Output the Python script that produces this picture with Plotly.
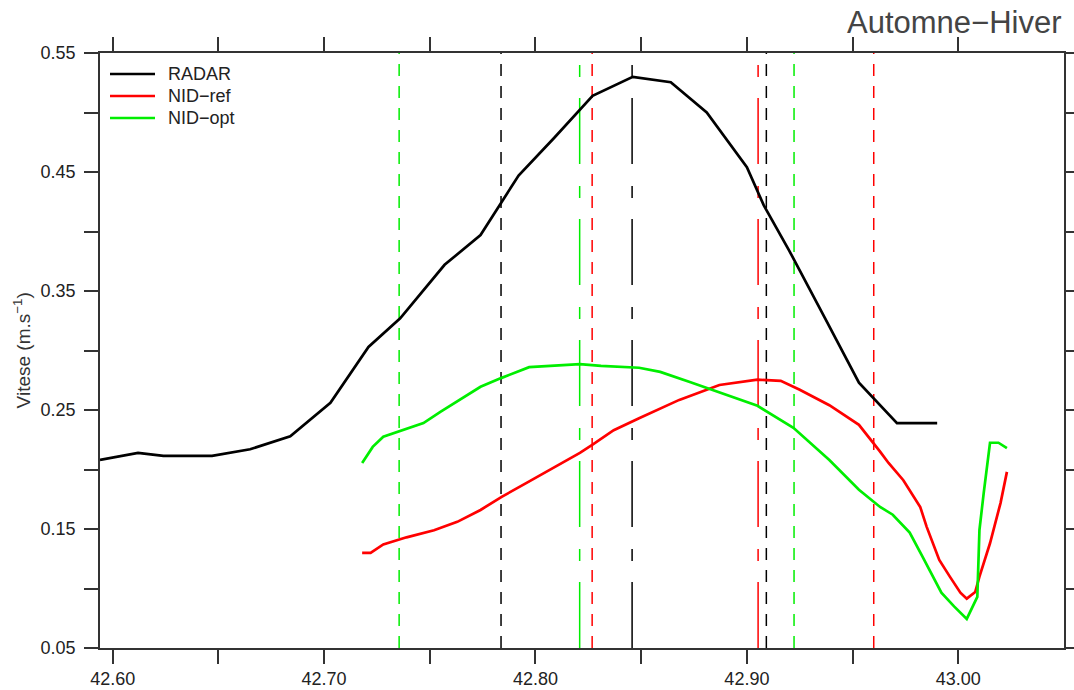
import plotly.graph_objects as go

# ---- data ----
radar_lat = [42.594, 42.612, 42.624, 42.647, 42.665, 42.684, 42.703, 42.721, 42.736,
             42.757, 42.774, 42.792, 42.809, 42.827, 42.846, 42.864, 42.881, 42.900,
             42.908, 42.920, 42.937, 42.953, 42.971, 42.990]
radar_v = [0.208, 0.214, 0.2115, 0.2115, 0.217, 0.228, 0.256, 0.303, 0.327,
           0.372, 0.397, 0.447, 0.479, 0.514, 0.530, 0.5255, 0.500, 0.454,
           0.422, 0.384, 0.327, 0.273, 0.239, 0.239]

ref_lat = [42.718, 42.722, 42.728, 42.739, 42.752, 42.763, 42.774, 42.784, 42.796,
           42.807, 42.821, 42.827, 42.837, 42.849, 42.868, 42.887, 42.905, 42.916,
           42.925, 42.939, 42.953, 42.963, 42.967, 42.974, 42.982, 42.985, 42.991,
           42.996, 43.001, 43.004, 43.008, 43.010, 43.015, 43.020, 43.023]
ref_v = [0.130, 0.130, 0.137, 0.143, 0.149, 0.156, 0.166, 0.177, 0.189,
         0.200, 0.214, 0.221, 0.233, 0.243, 0.2585, 0.271, 0.2755, 0.2745,
         0.267, 0.254, 0.2375, 0.215, 0.2055, 0.191, 0.1685, 0.152, 0.124,
         0.110, 0.0965, 0.0915, 0.097, 0.110, 0.138, 0.172, 0.198]

opt_lat = [42.718, 42.723, 42.728, 42.735, 42.747, 42.755, 42.764, 42.774, 42.784,
           42.797, 42.821, 42.831, 42.849, 42.859, 42.873, 42.887, 42.905, 42.922,
           42.939, 42.953, 42.963, 42.969, 42.977, 42.983, 42.988, 42.992, 42.998,
           43.004, 43.009, 43.010, 43.012, 43.015, 43.019, 43.023]
opt_v = [0.2055, 0.219, 0.2275, 0.2315, 0.239, 0.2485, 0.2585, 0.2695, 0.277,
         0.286, 0.2885, 0.287, 0.2855, 0.282, 0.2735, 0.265, 0.2535, 0.235,
         0.208, 0.183, 0.1685, 0.162, 0.147, 0.127, 0.110, 0.0965, 0.085,
         0.0745, 0.093, 0.149, 0.180, 0.2225, 0.2225, 0.218]

# vertical markers (latitude, colour, style)
vline_lat = [42.7355, 42.7837, 42.8209, 42.8268, 42.8457, 42.9053, 42.9092, 42.9223, 42.9600]
vline_col = ["#00ee00", "#000000", "#00ee00", "#ff0000", "#000000", "#ff0000", "#000000", "#00ee00", "#ff0000"]
vline_sty = ["dash", "dash", "dashdot", "dash", "dashdot", "dashdot", "dash", "dash", "dash"]

series_names = ["RADAR", "NID\u2212ref", "NID\u2212opt"]
series_colors = ["#000000", "#ff0000", "#00ee00"]

x_ticks = [42.60, 42.70, 42.80, 42.90, 43.00]
x_labels = ["42.60", "42.70", "42.80", "42.90", "43.00"]
x_minor = [42.65, 42.75, 42.85, 42.95]
y_ticks = [0.05, 0.15, 0.25, 0.35, 0.45, 0.55]
y_labels = ["0.05", "0.15", "0.25", "0.35", "0.45", "0.55"]
y_minor = [0.10, 0.20, 0.30, 0.40, 0.50]

Y_MIN, Y_MAX = 0.05, 0.55
X_MIN, X_MAX = 42.594, 43.050

DASH = {"dash": "12px,10px", "dashdot": "66px,21px,12px,22px"}

fig = go.Figure()

for lat, col, sty in zip(vline_lat, vline_col, vline_sty):
    fig.add_trace(go.Scatter(x=[lat, lat], y=[Y_MIN, Y_MAX], mode="lines",
                             line=dict(color=col, width=1.5, dash=DASH[sty]),
                             showlegend=False, hoverinfo="skip"))

for xs, ys, nm, col in zip([radar_lat, ref_lat, opt_lat], [radar_v, ref_v, opt_v],
                           series_names, series_colors):
    fig.add_trace(go.Scatter(x=xs, y=ys, mode="lines", name=nm, showlegend=False,
                             line=dict(color=col, width=2.7)))

axis_common = dict(showline=True, linecolor="#333333", linewidth=1.5, mirror="allticks",
                   ticks="outside", ticklen=14, tickwidth=1.5, tickcolor="#333333",
                   showgrid=False, zeroline=False, automargin=False,
                   tickfont=dict(family="Liberation Sans", size=18, color="#222222"))
minor_common = dict(ticks="outside", ticklen=14, tickwidth=1.5, tickcolor="#333333",
                    showgrid=False)

# legend drawn inside the plot (swatch + label)
shapes = []
annotations = []
leg_y0 = 74
for i, (nm, col) in enumerate(zip(series_names, series_colors)):
    ypx = leg_y0 + i * 22
    yp = 1 - (ypx - 53) / 595
    x0 = (110 - 100) / 964
    x1 = (155 - 100) / 964
    shapes.append(dict(type="line", xref="paper", yref="paper", x0=x0, x1=x1, y0=yp, y1=yp,
                       line=dict(color=col, width=2.7)))
    annotations.append(dict(text=nm, xref="paper", yref="paper", x=(166 - 100) / 964, y=yp,
                            xanchor="left", yanchor="middle", showarrow=False,
                            font=dict(family="Liberation Sans", size=18, color="#222222")))

annotations += [
    dict(text="Automne\u2212Hiver", xref="paper", yref="paper", x=1.0, y=1.052,
         xanchor="right", yanchor="middle", showarrow=False,
         font=dict(family="Liberation Sans", size=31, color="#444444")),
    dict(text="Vitese (m.s<sup>\u22121</sup>)", xref="paper", yref="paper",
         x=-0.081, y=0.5, xanchor="center", yanchor="middle", textangle=-90,
         showarrow=False, font=dict(family="Liberation Sans", size=19, color="#333333")),
]

fig.update_layout(
    width=1074, height=690,
    margin=dict(l=100, r=10, t=53, b=42, autoexpand=False),
    plot_bgcolor="white", paper_bgcolor="white",
    font=dict(family="Liberation Sans", color="#222222"),
    xaxis=dict(range=[X_MIN, X_MAX], tickmode="array", tickvals=x_ticks, ticktext=x_labels,
               minor=dict(tickmode="array", tickvals=x_minor, **minor_common),
               **axis_common),
    yaxis=dict(range=[Y_MIN, Y_MAX], tickmode="array", tickvals=y_ticks, ticktext=y_labels,
               minor=dict(tickmode="array", tickvals=y_minor, **minor_common),
               ticklabelstandoff=5, **axis_common),
    showlegend=False,
    shapes=shapes,
    annotations=annotations,
)

fig.write_html("out.html", config={"displayModeBar": False},
               post_script="document.body.style.margin='0px';document.body.style.overflow='hidden';")
